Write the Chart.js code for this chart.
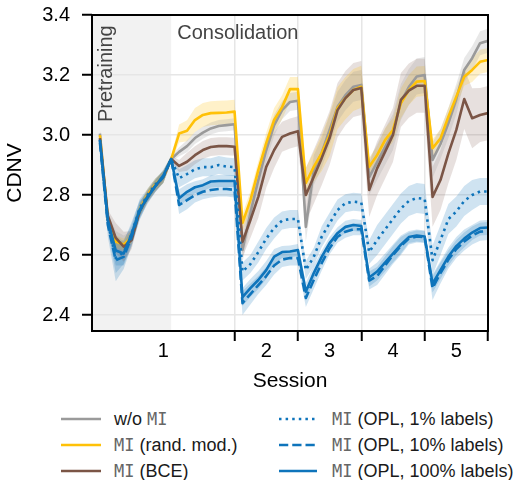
<!DOCTYPE html>
<html>
<head>
<meta charset="utf-8">
<script src="https://cdn.jsdelivr.net/npm/chart.js@4.4.1/dist/chart.umd.min.js"></script>
<style>
  html, body { margin: 0; padding: 0; background: #fff; }
  #wrap { position: relative; width: 518px; height: 480px; font-family: 'Liberation Sans', Arial, sans-serif; }
  #chart { position: absolute; left: 0; top: 0; }
  .item { position: absolute; height: 26px; display: flex; align-items: center; font-size: 18px; color: #1a1a1a; white-space: nowrap; }
  .mono { font-family: 'DejaVu Sans Mono', monospace; font-size: 17px; color: #666; }
</style>
</head>
<body>
<div id="wrap">
  <canvas id="chart" width="518" height="400"></canvas>
  <div id="legend"></div>
</div>
<script>
// x axis: epochs 1..50, pretraining = first 10, then 8 per session
var EPOCHS = Array.from({ length: 50 }, function (_, i) { return i + 1; });
var PRETRAIN_END = 10;
var SESSION_ENDS = [18, 26, 34, 42, 50];
var SESSION_CENTERS = [9, 22, 30, 38, 46];
var SESSION_LABELS = ['1', '2', '3', '4', '5'];
var Y_TICKS = [2.4, 2.6, 2.8, 3.0, 3.2, 3.4];

// mean CDNV per epoch
var woMI = [
  3.005, 2.72, 2.65, 2.635, 2.66, 2.75, 2.80, 2.835, 2.86, 2.92,
  2.944, 2.963, 2.99, 3.008, 3.022, 3.03, 3.033, 3.036,
  2.617, 2.74, 2.85, 2.95, 3.033, 3.083, 3.11, 3.114,
  2.694, 2.883, 2.94, 3.017, 3.094, 3.133, 3.161, 3.167,
  2.86, 2.91, 2.96, 3.01, 3.11, 3.16, 3.195, 3.2,
  2.917, 2.97, 3.04, 3.12, 3.217, 3.256, 3.306, 3.314
];
var miRand = [
  3.0, 2.72, 2.645, 2.635, 2.66, 2.75, 2.80, 2.835, 2.86, 2.92,
  3.005, 3.014, 3.05, 3.067, 3.073, 3.074, 3.075, 3.078,
  2.707, 2.783, 2.883, 2.973, 3.05, 3.093, 3.153, 3.153,
  2.84, 2.894, 2.94, 3.0, 3.09, 3.123, 3.15, 3.161,
  2.894, 2.933, 2.983, 3.017, 3.106, 3.15, 3.178, 3.18,
  2.956, 2.989, 3.061, 3.128, 3.194, 3.217, 3.244, 3.25
];
var miBCE = [
  2.99, 2.73, 2.657, 2.628, 2.65, 2.745, 2.795, 2.83, 2.86, 2.92,
  2.897, 2.911, 2.933, 2.95, 2.96, 2.963, 2.963, 2.961,
  2.644, 2.717, 2.794, 2.894, 2.95, 2.994, 3.005, 3.013,
  2.80, 2.861, 2.923, 2.99, 3.083, 3.123, 3.15, 3.157,
  2.817, 2.889, 2.944, 3.0, 3.117, 3.148, 3.164, 3.164,
  2.794, 2.85, 2.939, 3.017, 3.12, 3.056, 3.067, 3.073
];
var miOpl1 = [
  2.985, 2.71, 2.59, 2.61, 2.67, 2.755, 2.80, 2.835, 2.86, 2.92,
  2.856, 2.87, 2.886, 2.893, 2.893, 2.90, 2.895, 2.893,
  2.545, 2.57, 2.61, 2.655, 2.69, 2.715, 2.72, 2.72,
  2.55, 2.594, 2.661, 2.706, 2.75, 2.773, 2.778, 2.775,
  2.61, 2.65, 2.685, 2.72, 2.755, 2.78, 2.79, 2.787,
  2.583, 2.65, 2.72, 2.745, 2.78, 2.80, 2.812, 2.812
];
var miOpl10 = [
  2.975, 2.70, 2.583, 2.594, 2.66, 2.745, 2.795, 2.83, 2.86, 2.92,
  2.767, 2.783, 2.80, 2.811, 2.817, 2.82, 2.82, 2.817,
  2.44, 2.47, 2.50, 2.53, 2.565, 2.585, 2.59, 2.59,
  2.457, 2.517, 2.573, 2.623, 2.661, 2.678, 2.686, 2.686,
  2.515, 2.53, 2.565, 2.60, 2.63, 2.655, 2.662, 2.66,
  2.49, 2.54, 2.585, 2.62, 2.645, 2.665, 2.678, 2.68
];
var miOpl100 = [
  2.983, 2.717, 2.615, 2.605, 2.67, 2.75, 2.79, 2.83, 2.865, 2.92,
  2.789, 2.811, 2.826, 2.833, 2.845, 2.847, 2.847, 2.847,
  2.46, 2.49, 2.517, 2.55, 2.595, 2.61, 2.612, 2.617,
  2.478, 2.54, 2.594, 2.64, 2.673, 2.694, 2.70, 2.697,
  2.525, 2.545, 2.575, 2.605, 2.635, 2.66, 2.665, 2.662,
  2.505, 2.55, 2.595, 2.63, 2.655, 2.675, 2.69, 2.692
];

// half-width of the shaded bands
var woMI_sd = [
  0.01, 0.02, 0.03, 0.03, 0.02, 0.02, 0.02, 0.02, 0.02, 0.01,
  0.015, 0.02, 0.02, 0.02, 0.02, 0.02, 0.02, 0.02,
  0.04, 0.04, 0.04, 0.04, 0.035, 0.03, 0.03, 0.03,
  0.05, 0.05, 0.05, 0.05, 0.05, 0.05, 0.05, 0.05,
  0.06, 0.06, 0.06, 0.06, 0.06, 0.06, 0.06, 0.06,
  0.06, 0.05, 0.05, 0.05, 0.04, 0.04, 0.04, 0.04
];
var miRand_sd = [
  0.02, 0.02, 0.02, 0.02, 0.02, 0.02, 0.02, 0.02, 0.02, 0.01,
  0.03, 0.035, 0.04, 0.04, 0.04, 0.04, 0.04, 0.04,
  0.03, 0.03, 0.03, 0.035, 0.04, 0.04, 0.04, 0.04,
  0.05, 0.05, 0.06, 0.07, 0.07, 0.07, 0.07, 0.07,
  0.03, 0.03, 0.04, 0.04, 0.05, 0.05, 0.05, 0.05,
  0.03, 0.03, 0.03, 0.03, 0.03, 0.04, 0.04, 0.04
];
var miBCE_sd = [
  0.01, 0.02, 0.05, 0.05, 0.03, 0.02, 0.02, 0.02, 0.02, 0.01,
  0.02, 0.03, 0.03, 0.03, 0.03, 0.03, 0.03, 0.03,
  0.05, 0.06, 0.07, 0.07, 0.06, 0.05, 0.05, 0.05,
  0.09, 0.09, 0.09, 0.09, 0.09, 0.09, 0.09, 0.09,
  0.09, 0.09, 0.09, 0.09, 0.09, 0.09, 0.09, 0.09,
  0.10, 0.10, 0.10, 0.10, 0.10, 0.10, 0.09, 0.09
];
var miOpl1_sd = [
  0.01, 0.03, 0.05, 0.04, 0.03, 0.03, 0.02, 0.02, 0.02, 0.01,
  0.03, 0.03, 0.03, 0.03, 0.03, 0.03, 0.03, 0.03,
  0.03, 0.03, 0.035, 0.035, 0.035, 0.03, 0.03, 0.03,
  0.03, 0.03, 0.035, 0.035, 0.035, 0.03, 0.03, 0.03,
  0.04, 0.05, 0.05, 0.05, 0.05, 0.05, 0.05, 0.05,
  0.05, 0.05, 0.05, 0.05, 0.05, 0.05, 0.045, 0.045
];
var miOpl10_sd = [
  0.01, 0.04, 0.07, 0.04, 0.03, 0.03, 0.02, 0.02, 0.02, 0.01,
  0.03, 0.03, 0.025, 0.025, 0.025, 0.025, 0.025, 0.025,
  0.04, 0.035, 0.03, 0.03, 0.03, 0.025, 0.025, 0.025,
  0.03, 0.03, 0.025, 0.02, 0.02, 0.02, 0.02, 0.02,
  0.03, 0.03, 0.03, 0.03, 0.03, 0.02, 0.02, 0.02,
  0.04, 0.035, 0.03, 0.03, 0.03, 0.03, 0.03, 0.03
];
var miOpl100_sd = [
  0.01, 0.03, 0.05, 0.04, 0.04, 0.03, 0.02, 0.02, 0.02, 0.01,
  0.03, 0.025, 0.02, 0.02, 0.02, 0.02, 0.02, 0.02,
  0.03, 0.03, 0.03, 0.03, 0.025, 0.02, 0.02, 0.02,
  0.03, 0.025, 0.02, 0.02, 0.02, 0.02, 0.02, 0.02,
  0.03, 0.03, 0.03, 0.03, 0.03, 0.02, 0.02, 0.02,
  0.03, 0.03, 0.03, 0.03, 0.03, 0.025, 0.025, 0.025
];

var FONT = "'Liberation Sans', Arial, sans-serif";
var MONO = '<span class="mono">MI</span>';

var SERIES = [
  { label: 'w/o ' + MONO, mean: woMI, sd: woMI_sd, color: '#9a9a9a', band: 'rgba(150,150,150,0.22)', dash: [], order: 6 },
  { label: MONO + ' (rand. mod.)', mean: miRand, sd: miRand_sd, color: '#ffc107', band: 'rgba(255,193,7,0.22)', dash: [], order: 5 },
  { label: MONO + ' (BCE)', mean: miBCE, sd: miBCE_sd, color: '#7b5546', band: 'rgba(123,85,70,0.18)', dash: [], order: 4 },
  { label: MONO + ' (OPL, 1% labels)', mean: miOpl1, sd: miOpl1_sd, color: '#0e74bb', band: 'rgba(14,116,187,0.2)', dash: [2.5, 4.1], order: 3 },
  { label: MONO + ' (OPL, 10% labels)', mean: miOpl10, sd: miOpl10_sd, color: '#0e74bb', band: 'rgba(14,116,187,0.2)', dash: [9.25, 4], order: 2 },
  { label: MONO + ' (OPL, 100% labels)', mean: miOpl100, sd: miOpl100_sd, color: '#0e74bb', band: 'rgba(14,116,187,0.2)', dash: [], order: 1 }
];

function pts(arr) {
  return arr.map(function (v, i) { return { x: EPOCHS[i], y: v }; });
}

var datasets = [];
SERIES.forEach(function (s) {
  var hi = s.mean.map(function (v, i) { return v + s.sd[i]; });
  var lo = s.mean.map(function (v, i) { return v - s.sd[i]; });
  datasets.push({ data: pts(hi), fill: '+1', backgroundColor: s.band, borderColor: 'rgba(0,0,0,0)', borderWidth: 0, pointRadius: 0, order: 20 });
  datasets.push({ data: pts(lo), fill: false, borderColor: 'rgba(0,0,0,0)', borderWidth: 0, pointRadius: 0, order: 20 });
});
SERIES.forEach(function (s) {
  datasets.push({
    data: pts(s.mean), fill: false, borderColor: s.color, borderWidth: 2.6,
    borderDash: s.dash, borderCapStyle: 'butt', borderJoinStyle: 'round',
    pointRadius: 0, order: s.order
  });
});

// shaded pretraining area, axes box, annotations
var decor = {
  id: 'decor',
  beforeDraw: function (chart) {
    var a = chart.chartArea, c = chart.ctx;
    var xEnd = chart.scales.x.getPixelForValue(PRETRAIN_END);
    c.save();
    c.fillStyle = '#f2f2f2';
    c.fillRect(a.left, a.top, xEnd - a.left, a.bottom - a.top);
    c.restore();
  },
  afterDatasetsDraw: function (chart) {
    var a = chart.chartArea, c = chart.ctx;
    var xEnd = chart.scales.x.getPixelForValue(PRETRAIN_END);
    c.save();
    c.strokeStyle = '#000';
    c.lineWidth = 2;
    c.strokeRect(a.left, a.top, a.right - a.left, a.bottom - a.top);
    c.fillStyle = '#444';
    c.font = '20px ' + FONT;
    c.textBaseline = 'alphabetic';
    c.textAlign = 'left';
    c.fillText('Consolidation', xEnd + 6, a.top + 24);
    c.translate(a.left + 19.5, a.top + 107);
    c.rotate(-Math.PI / 2);
    c.fillText('Pretraining', 0, 0);
    c.restore();
  }
};

function isBoundary(v) { return SESSION_ENDS.indexOf(v) !== -1; }

new Chart(document.getElementById('chart'), {
  type: 'line',
  data: { datasets: datasets },
  plugins: [decor],
  options: {
    responsive: false,
    animation: false,
    devicePixelRatio: 1,
    layout: { padding: { left: 0, right: 30, top: 15, bottom: 5 } },
    plugins: { legend: { display: false }, tooltip: { enabled: false } },
    scales: {
      x: {
        type: 'linear', min: 0, max: 50,
        border: { display: false },
        afterBuildTicks: function (s) {
          s.ticks = SESSION_CENTERS.concat(SESSION_ENDS).sort(function (a, b) { return a - b; })
            .map(function (v) { return { value: v }; });
        },
        afterFit: function (s) { s.height = 64; s.paddingLeft = 0; s.paddingRight = 0; },
        grid: {
          lineWidth: 1.5,
          color: function (ctx) { return ctx.tick && isBoundary(ctx.tick.value) ? '#e6e6e6' : 'rgba(0,0,0,0)'; },
          tickColor: function (ctx) { return ctx.tick && isBoundary(ctx.tick.value) ? '#000' : 'rgba(0,0,0,0)'; },
          tickLength: 10, tickWidth: 2
        },
        ticks: {
          autoSkip: false, maxRotation: 0, padding: 0, color: '#000',
          font: { family: FONT, size: 20, lineHeight: 1 },
          callback: function (v) {
            var k = SESSION_CENTERS.indexOf(v);
            return k === -1 ? '' : SESSION_LABELS[k];
          }
        },
        title: { display: true, text: 'Session', color: '#000', font: { family: FONT, size: 21 }, padding: { top: 0, bottom: 1 } }
      },
      y: {
        min: 2.347, max: 3.4,
        border: { display: false },
        afterBuildTicks: function (s) {
          s.ticks = Y_TICKS.map(function (v) { return { value: v }; });
        },
        // fixed width; drop the label overhang padding so the plot top stays at the layout padding
        afterFit: function (s) { s.width = 92; s.paddingTop = 0; s.paddingBottom = 0; },
        grid: { lineWidth: 1.5, color: '#e6e6e6', tickColor: '#000', tickLength: 10, tickWidth: 2 },
        ticks: {
          padding: 12, color: '#000',
          font: { family: FONT, size: 20 },
          callback: function (v) { return Number(v).toFixed(1); }
        },
        title: { display: true, text: 'CDNV', color: '#000', font: { family: FONT, size: 21 }, padding: { top: 3, bottom: 0 } }
      }
    }
  }
});

// legend in two columns
var legendEl = document.getElementById('legend');
SERIES.forEach(function (s, i) {
  var col = i < 3 ? 0 : 1;
  var row = i % 3;
  var w = col ? 38 : 40;
  var item = document.createElement('div');
  item.className = 'item';
  item.style.left = (col ? 279 : 61) + 'px';
  item.style.top = (406 + row * 26) + 'px';
  var svg = '<svg width="' + w + '" height="10" style="margin-right:' + (col ? 15 : 13) + 'px">' +
    '<line x1="0" y1="5" x2="' + w + '" y2="5" stroke="' + s.color + '" stroke-width="2.6"' +
    (s.dash.length ? ' stroke-dasharray="' + s.dash.join(' ') + '"' : '') + '/></svg>';
  item.innerHTML = svg + '<span>' + s.label + '</span>';
  legendEl.appendChild(item);
});
</script>
</body>
</html>
